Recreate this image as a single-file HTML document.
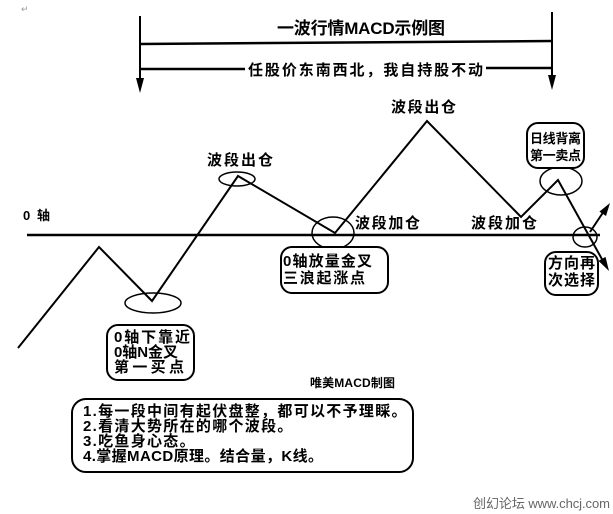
<!DOCTYPE html>
<html>
<head>
<meta charset="utf-8">
<style>
  html,body{margin:0;padding:0;background:#fff;}
  svg{display:block;}
  text{font-family:"Liberation Sans","Noto Sans CJK SC","WenQuanYi Zen Hei",sans-serif;font-weight:bold;fill:#000;}
</style>
</head>
<body>
<svg width="613" height="514" viewBox="0 0 613 514" xmlns="http://www.w3.org/2000/svg">
  <rect x="0" y="0" width="613" height="514" fill="#fff"/>
  <!-- paragraph mark -->
  <text x="21" y="12" style="font-size:9px;font-weight:normal;fill:#999">↵</text>

  <!-- top verticals with arrows -->
  <line x1="140" y1="16" x2="140" y2="80" stroke="#000" stroke-width="2"/>
  <polygon points="136,78 144,78 140,93" fill="#000"/>
  <line x1="552" y1="12" x2="552" y2="77" stroke="#000" stroke-width="2"/>
  <polygon points="548,75 556,75 552,90" fill="#000"/>

  <!-- top horizontal -->
  <line x1="140" y1="44" x2="552" y2="41" stroke="#000" stroke-width="2.5"/>
  <text x="277" y="34" style="font-size:17px" textLength="168" lengthAdjust="spacing">一波行情MACD示例图</text>

  <!-- second horizontal -->
  <line x1="140" y1="69" x2="245" y2="69" stroke="#000" stroke-width="2.5"/>
  <line x1="486" y1="68" x2="552" y2="68" stroke="#000" stroke-width="2.5"/>
  <text x="248" y="75" style="font-size:15px" textLength="235" lengthAdjust="spacing">任股价东南西北，我自持股不动</text>

  <!-- zero axis -->
  <text x="23" y="220" style="font-size:13px" textLength="27" lengthAdjust="spacing">0 轴</text>
  <line x1="27" y1="235" x2="600" y2="235" stroke="#000" stroke-width="2.5"/>

  <!-- main polyline -->
  <polyline points="18,348 99,247 152,301 238,176 335,233 427,121 521,217 558,180 603,261"
            fill="none" stroke="#000" stroke-width="2" stroke-linejoin="miter"/>
  <polygon points="598.5,260.9 605.5,256.9 609,271" fill="#000"/>
  <!-- up arrow -->
  <line x1="590" y1="232" x2="604" y2="211" stroke="#000" stroke-width="2"/>
  <polygon points="599.4,211.6 606,216 610,203" fill="#000"/>

  <!-- ellipses -->
  <g fill="none" stroke="#000" stroke-width="1.5">
    <ellipse cx="153" cy="303" rx="28" ry="10"/>
    <ellipse cx="237" cy="179" rx="18" ry="7"/>
    <ellipse cx="333" cy="233" rx="21" ry="16"/>
    <ellipse cx="561" cy="181" rx="21" ry="14"/>
    <ellipse cx="585" cy="237" rx="12" ry="10"/>
  </g>

  <!-- labels -->
  <text x="207" y="165" style="font-size:15px" textLength="66" lengthAdjust="spacing">波段出仓</text>
  <text x="391" y="112" style="font-size:15px" textLength="65" lengthAdjust="spacing">波段出仓</text>
  <text x="355" y="228" style="font-size:15px" textLength="65" lengthAdjust="spacing">波段加仓</text>
  <text x="471" y="228" style="font-size:15px" textLength="66" lengthAdjust="spacing">波段加仓</text>

  <!-- boxes -->
  <g fill="#fff" stroke="#000" stroke-width="2">
    <rect x="107" y="325" width="87" height="55" rx="11" ry="11"/>
    <rect x="281" y="247" width="107" height="46" rx="11" ry="11"/>
    <rect x="527" y="123" width="57" height="45" rx="11" ry="11"/>
    <rect x="545" y="252" width="53" height="43" rx="11" ry="11"/>
    <rect x="72" y="399" width="341" height="73" rx="14" ry="14"/>
  </g>

  <text x="114" y="342" style="font-size:15px" textLength="76" lengthAdjust="spacing">0轴下靠近</text>
  <text x="114" y="357" style="font-size:15px" textLength="64" lengthAdjust="spacing">0轴N金叉</text>
  <text x="114" y="372" style="font-size:15px" textLength="70" lengthAdjust="spacing">第一买点</text>

  <text x="283" y="266" style="font-size:15px" textLength="89" lengthAdjust="spacing">0轴放量金叉</text>
  <text x="283" y="283" style="font-size:15px" textLength="82" lengthAdjust="spacing">三浪起涨点</text>

  <text x="530" y="143" style="font-size:13px" textLength="51" lengthAdjust="spacing">日线背离</text>
  <text x="530" y="160" style="font-size:13px" textLength="51" lengthAdjust="spacing">第一卖点</text>

  <text x="548" y="268" style="font-size:15px" textLength="47" lengthAdjust="spacing">方向再</text>
  <text x="548" y="285" style="font-size:15px" textLength="47" lengthAdjust="spacing">次选择</text>

  <text x="310" y="387" style="font-size:12px" textLength="85" lengthAdjust="spacing">唯美MACD制图</text>

  <text x="83" y="416" style="font-size:15px;letter-spacing:1.3px">1.每一段中间有起伏盘整，都可以不予理睬。</text>
  <text x="83" y="431" style="font-size:15px;letter-spacing:1.3px">2.看清大势所在的哪个波段。</text>
  <text x="83" y="446" style="font-size:15px;letter-spacing:1.3px">3.吃鱼身心态。</text>
  <text x="83" y="461" style="font-size:15px" textLength="240" lengthAdjust="spacing">4.掌握MACD原理。结合量，K线。</text>

  <text x="473" y="508" style="font-size:13px;font-weight:normal;fill:#666" textLength="137" lengthAdjust="spacing">创幻论坛 www.chcj.com</text>
</svg>
</body>
</html>
